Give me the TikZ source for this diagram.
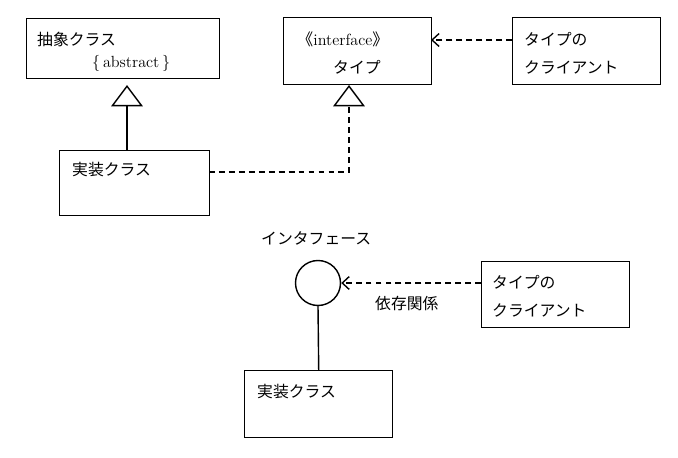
\documentclass[tikz,border=0pt]{standalone}
\usepackage{fontspec}
\newfontfamily\jp{Noto Sans CJK JP}
\usetikzlibrary{positioning, arrows.meta, calc}

\begin{document}
\begin{tikzpicture}[
        x=0.03cm, y=-0.03cm,
        % class boxes and texts
        box/.style={draw, line width=1.2pt, anchor=north west, inner sep=0pt},
        jtxt/.style={anchor=west, inner sep=0pt, font=\jp\fontsize{13.5}{16}\selectfont},
        etxt/.style={anchor=west, inner sep=0pt, font=\fontsize{13.8}{16}\selectfont},
        % connectors
        gen/.style={line width=1.2pt, -{Triangle[open, length=0.64cm, width=0.95cm]}},
        real/.style={gen, dash pattern=on 5pt off 3.5pt},
        dep/.style={line width=1.2pt, dash pattern=on 5pt off 3.5pt,
            -{Straight Barb[length=6pt, width=11pt]}}
    ]
    \useasboundingbox (0,0) rectangle (678,458);

    % ==========================================
    % CLASS DIAGRAM
    % ==========================================

    % Abstract class
    \node[box, minimum width=5.79cm, minimum height=1.8cm] (abs) at (26,18) {};
    \node[jtxt] (absname) at (37,39) {抽象クラス};
    \node[etxt] (abstag) at (92,63) {\{\,abstract\,\}};

    % Interface
    \node[box, minimum width=4.44cm, minimum height=2.01cm] (iface) at (283,17) {};
    \node[etxt] (ifacetag) at (297,39) {{\jp《}interface{\jp》}};
    \node[jtxt] (ifacename) at (333,67) {タイプ};

    % Client of the type
    \node[box, minimum width=4.44cm, minimum height=2.01cm] (client1) at (512,17) {};
    \node[jtxt] (client1a) at (524,39) {タイプの};
    \node[jtxt] (client1b) at (524,67) {クライアント};

    % Concrete class
    \node[box, minimum width=4.5cm, minimum height=1.95cm] (impl1) at (59,150) {};
    \node[jtxt] (impl1name) at (72,170) {実装クラス};

    % Connectors
    \coordinate (abstip) at (127,85);
    \coordinate (ifacetip) at (349,85);
    \coordinate (implout) at (209,172);
    \coordinate (ifacein) at (431,40);
    \draw[gen] (impl1.north -| abstip) -- (abstip);
    \draw[real] (implout) -| (ifacetip);
    \draw[dep] (client1.west |- ifacein) -- (ifacein);

    % ==========================================
    % LOLLIPOP NOTATION
    % ==========================================

    \node[jtxt] (lolliname) at (261,238) {インタフェース};
    \node[draw, circle, line width=1.2pt, minimum size=1.35cm, inner sep=0pt] (lolli) at (318,283) {};

    \node[box, minimum width=4.44cm, minimum height=1.98cm] (client2) at (481,261) {};
    \node[jtxt] (client2a) at (492,282) {タイプの};
    \node[jtxt] (client2b) at (492,310) {クライアント};

    \node[box, minimum width=4.44cm, minimum height=2.01cm] (impl2) at (244,370) {};
    \node[jtxt] (impl2name) at (257,392) {実装クラス};

    \node[jtxt] (deplabel) at (375,303) {依存関係};

    \draw[line width=1.2pt] (lolli.south) -- (impl2.north);
    \draw[dep] (client2.west |- lolli.east) -- (lolli.east);

\end{tikzpicture}
\end{document}
